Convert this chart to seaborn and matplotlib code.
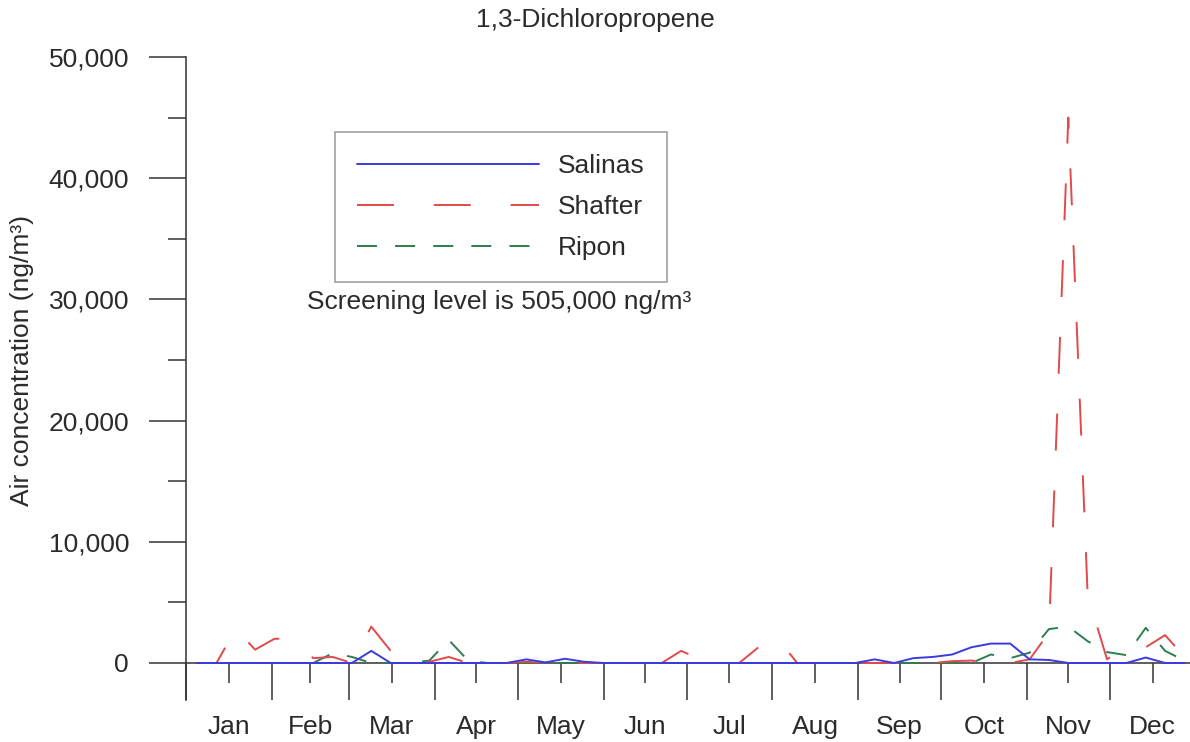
import numpy as np
import pandas as pd
import matplotlib
matplotlib.use("Agg")
import matplotlib.pyplot as plt
import seaborn as sns
from matplotlib.lines import Line2D
from matplotlib.ticker import FixedLocator, FixedFormatter, NullFormatter, FuncFormatter

# ---------------- data ----------------
sample_day = [4, 11, 18, 25, 32, 39, 46, 53, 60, 67, 74, 81, 88, 95, 102, 109, 116,
              123, 130, 137, 144, 151, 158, 165, 172, 179, 186, 193, 200, 207, 214,
              221, 228, 235, 242, 249, 256, 263, 270, 277, 284, 291, 298, 305, 312,
              319, 326, 333, 340, 347, 354, 361]

salinas = [0, 0, 0, 0, 0, 0, 0, 0,
           0, 1000, 0,
           0, 0, 0, 0, 0, 0,
           300, 50, 350, 100,
           0, 0, 0, 0, 0, 0, 0, 0, 0, 0, 0, 0, 0, 0,
           300, 0, 400, 500, 700, 1300, 1600, 1600, 300, 250, 0, 0, 0, 0, 450, 0, 0]

shafter = [0, 0, 2800, 1100, 2000, 2000, 400, 500, 0, 3000, 1000, 0, 100, 500, 0, 0, 0, 100,
           0, 0, 0, 0, 0, 0,
           0, 1000, 300, 0, 0, 1300, 2000, 0,
           0, 0, 0, 0, 0, 0,
           0, 150, 200, 0, 0, 300, 2500, 45000, 5600, 300, 1400, 1300, 2300, 500]

ripon = [0, 0, 0, 0, 0, 0,
         0, 800, 500, 0, 0, 0, 200, 1900, 200, 0,
         0, 0, 0, 0, 0, 0, 0, 0, 0, 0, 0, 0, 0, 0, 0, 0, 0, 0, 0, 0, 0, 0, 0, 0,
         0, 700, 400, 850, 2800, 3000, 1800, 900, 650, 2900, 1000, 200]

sites = ["Salinas", "Shafter", "Ripon"]
site_colors = {"Salinas": "#3b3be0", "Shafter": "#e04a4a", "Ripon": "#2e7d4f"}
site_dashes = {"Salinas": "", "Shafter": (19, 20.5), "Ripon": (10.3, 9.3)}

month_starts = [0, 31, 59, 90, 120, 151, 181, 212, 243, 273, 304, 334, 365]
month_mids = [15.5, 45, 74.5, 105, 135.5, 166, 196.5, 227.5, 258, 288.5, 319, 349.5]
month_labels = ["Jan", "Feb", "Mar", "Apr", "May", "Jun", "Jul", "Aug", "Sep", "Oct", "Nov", "Dec"]

y_major = [0, 10000, 20000, 30000, 40000, 50000]
y_minor = [5000, 15000, 25000, 35000, 45000]

df = pd.DataFrame({
    "day": sample_day * 3,
    "conc": salinas + shafter + ripon,
    "site": ["Salinas"] * len(salinas) + ["Shafter"] * len(shafter) + ["Ripon"] * len(ripon),
})

# ---------------- style ----------------
sns.set_theme(style="white")
plt.rcParams["font.family"] = ["Liberation Sans", "DejaVu Sans"]
FS = 19
TXT = "#2b2b2b"
AX = "#333333"

fig = plt.figure(figsize=(11.9, 7.42), dpi=100)
ax = fig.add_axes([186 / 1190, 42 / 742, 1004 / 1190, 643 / 742])

sns.lineplot(data=df, x="day", y="conc", hue="site", style="site",
             hue_order=["Ripon", "Shafter", "Salinas"],
             style_order=["Ripon", "Shafter", "Salinas"],
             palette=site_colors, dashes=site_dashes,
             estimator=None, sort=False, linewidth=1.4, legend=False,
             zorder=3, ax=ax)

ax.set_xlim(0, 363)
ax.set_ylim(-3053, 50000)
ax.set_xlabel("")
ax.set_ylabel("")

for s in ["top", "right"]:
    ax.spines[s].set_visible(False)
ax.spines["bottom"].set_position(("data", 0))
for s in ["left", "bottom"]:
    ax.spines[s].set_color(AX)
    ax.spines[s].set_linewidth(1.1)

ax.xaxis.set_major_locator(FixedLocator(month_starts))
ax.xaxis.set_minor_locator(FixedLocator(month_mids))
ax.xaxis.set_major_formatter(NullFormatter())
ax.xaxis.set_minor_formatter(FixedFormatter(month_labels))
ax.tick_params(axis="x", which="major", direction="out", length=26.6, width=1.1,
               color=AX, bottom=True)
ax.tick_params(axis="x", which="minor", direction="out", length=14.4, width=1.1,
               color=AX, bottom=True, pad=23, labelsize=FS, labelcolor=TXT)

ax.yaxis.set_major_locator(FixedLocator(y_major))
ax.yaxis.set_minor_locator(FixedLocator(y_minor))
ax.yaxis.set_major_formatter(FuncFormatter(lambda v, p: f"{v:,.0f}"))
ax.tick_params(axis="y", which="major", direction="out", length=27, width=1.1,
               color=AX, left=True, pad=14, labelsize=FS, labelcolor=TXT)
ax.tick_params(axis="y", which="minor", direction="out", length=13, width=1.1,
               color=AX, left=True)

# legend
handles = [Line2D([], [], color=site_colors[s], linewidth=1.4,
                  dashes=site_dashes[s] if site_dashes[s] else (None, None))
           for s in sites]
handles[0].set_linestyle("-")
leg = ax.legend(handles, sites, loc="upper left",
                bbox_to_anchor=(335 / 1190, 1 - 132 / 742), bbox_transform=fig.transFigure,
                borderaxespad=0, fontsize=FS, handlelength=6.9, handletextpad=0.7,
                borderpad=0.84, labelspacing=0.64, fancybox=False, frameon=True)
leg.get_frame().set_edgecolor("#7f7f7f")
leg.get_frame().set_linewidth(1.1)
for t in leg.get_texts():
    t.set_color(TXT)

fig.text(0.5, 1 - 20 / 742, "1,3-Dichloropropene", ha="center", va="center",
         fontsize=FS, color=TXT)
fig.text(499 / 1190, 1 - 302 / 742, "Screening level is 505,000 ng/m³",
         ha="center", va="center", fontsize=FS, color=TXT)
fig.text(22 / 1190, 1 - 360 / 742, "Air concentration (ng/m³)", rotation=90,
         ha="center", va="center", fontsize=FS, color=TXT)

fig.savefig("out.png", dpi=100)
